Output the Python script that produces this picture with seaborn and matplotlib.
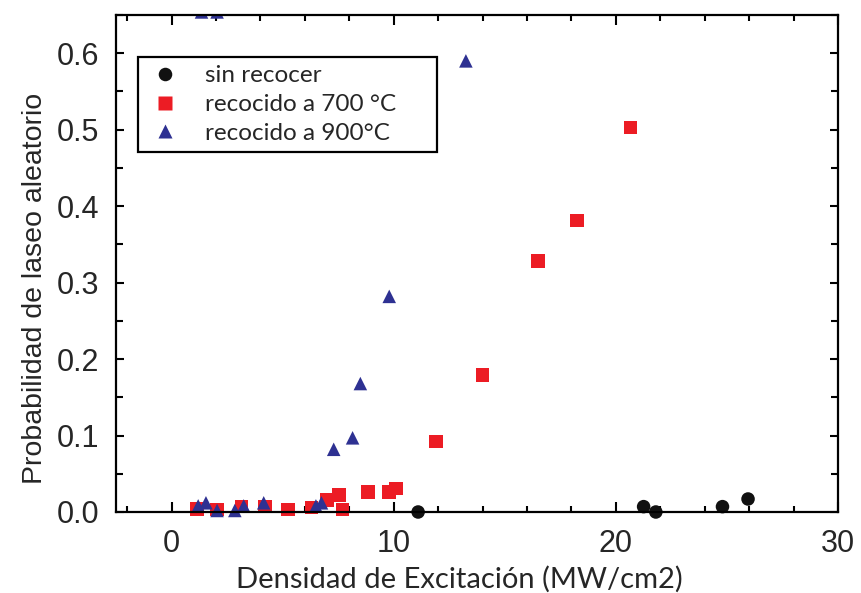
import numpy as np
import pandas as pd
import seaborn as sns
import matplotlib.pyplot as plt
from matplotlib.ticker import MultipleLocator

sns.set_style('ticks')
plt.rcParams['font.family'] = ['Liberation Sans', 'DejaVu Sans']

labels = ['sin recocer', 'recocido a 700 °C', 'recocido a 900°C']

sin_x = [11.1, 21.25, 21.8, 24.8, 25.95]
sin_y = [0.0, 0.007, 0.0, 0.007, 0.017]

r700_x = [1.15, 2.05, 3.15, 4.2, 5.25, 6.3, 7.0, 7.55, 7.7, 8.85, 9.8, 10.1,
          11.9, 14.0, 16.5, 18.25, 20.65]
r700_y = [0.004, 0.003, 0.007, 0.007, 0.003, 0.006, 0.016, 0.022, 0.003, 0.026,
          0.026, 0.031, 0.092, 0.179, 0.328, 0.381, 0.503]

r900_x = [1.2, 1.55, 2.05, 2.85, 3.25, 4.15, 6.5, 6.75, 7.3, 8.15, 8.5, 9.8,
          13.25, 1.35, 2.05]
r900_y = [0.008, 0.012, 0.002, 0.002, 0.008, 0.012, 0.008, 0.012, 0.082, 0.097,
          0.168, 0.282, 0.59, 0.654, 0.654]

colors = {labels[0]: '#111111', labels[1]: '#ec1c24', labels[2]: '#2e3192'}
markers = {labels[0]: 'o', labels[1]: 's', labels[2]: '^'}

df = pd.concat([
    pd.DataFrame({'x': sin_x, 'y': sin_y, 'muestra': labels[0]}),
    pd.DataFrame({'x': r700_x, 'y': r700_y, 'muestra': labels[1]}),
    pd.DataFrame({'x': r900_x, 'y': r900_y, 'muestra': labels[2]}),
], ignore_index=True)

ymax = 0.65
inside = df[df['y'] <= ymax]
above = df[df['y'] > ymax]

fig, ax = plt.subplots(figsize=(8.61, 5.93), dpi=100)
fig.subplots_adjust(left=0.1347, right=0.9733, top=0.9747, bottom=0.1366)

sns.scatterplot(data=inside, x='x', y='y', hue='muestra', style='muestra',
                palette=colors, markers=markers, hue_order=labels, style_order=labels,
                s=95, edgecolor='none', clip_on=False, ax=ax)
# points above the top of the range: only their lower edge shows
sns.scatterplot(data=above, x='x', y='y', hue='muestra', style='muestra',
                palette=colors, markers=markers, hue_order=labels, style_order=labels,
                s=95, edgecolor='none', legend=False, ax=ax)

ax.set_xlim(-2.5, 30)
ax.set_ylim(0, ymax)
ax.xaxis.set_major_locator(MultipleLocator(10))
ax.xaxis.set_minor_locator(MultipleLocator(2))
ax.yaxis.set_major_locator(MultipleLocator(0.1))
ax.yaxis.set_minor_locator(MultipleLocator(0.05))
ax.yaxis.set_major_formatter(plt.FormatStrFormatter('%.1f'))

ax.tick_params(which='both', direction='in', top=True, right=True, width=1.5, color='black')
ax.tick_params(axis='x', which='major', length=7, pad=12, labelsize=22)
ax.tick_params(axis='x', which='minor', length=4)
ax.tick_params(axis='y', which='major', length=6, pad=12, labelsize=22)
ax.tick_params(axis='y', which='minor', length=5)
for sp in ax.spines.values():
    sp.set_linewidth(1.6)
    sp.set_color('black')

ax.set_xlabel('Densidad de Excitación (MW/cm2)', fontsize=21, family=['Lato', 'DejaVu Sans'], labelpad=5)
ax.set_ylabel('Probabilidad de laseo aleatorio', fontsize=20.5, labelpad=6)
ax.xaxis.label.set_x(0.475)
ax.yaxis.label.set_y(0.45)

leg = ax.legend(loc='upper left', bbox_to_anchor=(0.0305, 0.716, 0.414, 0.2), mode='expand',
                borderaxespad=0, frameon=True, fancybox=False, edgecolor='black', framealpha=1,
                prop={'family': ['Lato', 'DejaVu Sans'], 'size': 17.5},
                handletextpad=0.9, labelspacing=0.32, borderpad=0.35, handlelength=1.5)
leg.get_frame().set_linewidth(1.6)

fig.savefig('out.png', dpi=100)
